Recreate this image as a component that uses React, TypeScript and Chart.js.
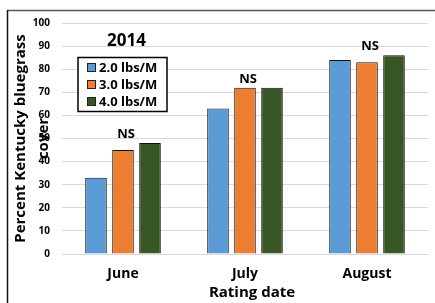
import React, { useEffect, useRef } from "react";
import { Chart, registerables } from "chart.js";

Chart.register(...registerables);

const categories = ["June", "July", "August"];
const seriesLabels = ["2.0 lbs/M", "3.0 lbs/M", "4.0 lbs/M"];
const rate20 = [33, 63, 84];
const rate30 = [45, 72, 83];
const rate40 = [48, 72, 86];
const seriesColors = ["#5b9bd5", "#ed7d31", "#375623"];
const significance = ["NS", "NS", "NS"];
const yMin = 0;
const yMax = 100;
const yStep = 10;
const chartTitle = "2014";
const yTitleLines = ["Percent Kentucky bluegrass", "cover"];
const xTitle = "Rating date";

const FONT = "'Open Sans', 'Liberation Sans', sans-serif";

const framePlugin = {
  id: "frame",
  beforeDraw(chart: any) {
    const { ctx, width, height } = chart;
    ctx.save();
    ctx.fillStyle = "#ffffff";
    ctx.fillRect(0, 0, width, height);
    ctx.strokeStyle = "#555555";
    ctx.lineWidth = 1.5;
    ctx.beginPath();
    ctx.moveTo(7, 10.5);
    ctx.lineTo(width, 10.5);
    ctx.stroke();
    ctx.strokeStyle = "#111111";
    ctx.beginPath();
    ctx.moveTo(7.5, 10);
    ctx.lineTo(7.5, height);
    ctx.stroke();
    ctx.restore();
  },
};

const textPlugin = {
  id: "texts",
  afterDatasetsDraw(chart: any) {
    const { ctx, chartArea, scales } = chart;
    const xs = scales.x;
    const ys = scales.y;
    ctx.save();
    ctx.fillStyle = "#000000";
    // NS labels
    ctx.font = `bold 13px ${FONT}`;
    ctx.textAlign = "center";
    ctx.textBaseline = "alphabetic";
    categories.forEach((_, i) => {
      let m = -Infinity;
      chart.data.datasets.forEach((ds: any) => {
        m = Math.max(m, ds.data[i]);
      });
      const x = xs.getPixelForValue(i) + 3;
      const y = ys.getPixelForValue(m) - 5;
      ctx.fillText(significance[i], x, y);
    });

    // Title
    ctx.font = `bold 17px ${FONT}`;
    ctx.textBaseline = "middle";
    ctx.fillText(chartTitle, chartArea.left + 64.5, chartArea.top + 18);

    // Legend box
    const bx = chartArea.left + 16;
    const by = chartArea.top + 34.5;
    const bw = 89;
    const bh = 54;
    ctx.fillStyle = "#ffffff";
    ctx.fillRect(bx, by, bw, bh);
    ctx.strokeStyle = "#000000";
    ctx.lineWidth = 1.5;
    ctx.strokeRect(bx, by, bw, bh);
    ctx.font = `bold 13px ${FONT}`;
    ctx.textAlign = "left";
    ctx.textBaseline = "middle";
    chart.data.datasets.forEach((ds: any, i: number) => {
      const cy = by + 10 + i * 17;
      ctx.fillStyle = ds.backgroundColor;
      ctx.fillRect(bx + 9, cy - 4.5, 9, 9);
      ctx.strokeStyle = "#222222";
      ctx.lineWidth = 1;
      ctx.strokeRect(bx + 9.5, cy - 4, 8, 8);
      ctx.fillStyle = "#000000";
      ctx.fillText(ds.label, bx + 21, cy + 0.5);
    });

    // Y title (two lines, rotated)
    const cyMid = (chartArea.top + chartArea.bottom) / 2;
    ctx.font = `bold 15px ${FONT}`;
    ctx.textAlign = "center";
    ctx.textBaseline = "middle";
    const lineX = [chartArea.left - 41, chartArea.left - 18];
    yTitleLines.forEach((t, i) => {
      ctx.save();
      ctx.translate(lineX[i], cyMid);
      ctx.rotate(-Math.PI / 2);
      ctx.fillText(t, 0, 0);
      ctx.restore();
    });

    // X title
    ctx.font = `bold 15px ${FONT}`;
    ctx.textAlign = "center";
    ctx.textBaseline = "middle";
    ctx.fillText(xTitle, (chartArea.left + chartArea.right) / 2 + 7, chartArea.bottom + 39);
    ctx.restore();
  },
};

export default function App() {
  const ref = useRef<HTMLCanvasElement | null>(null);
  useEffect(() => {
    if (!ref.current) return;
    const data = [rate20, rate30, rate40];
    const chart = new Chart(ref.current, {
      type: "bar",
      data: {
        labels: categories,
        datasets: seriesLabels.map((label, i) => ({
          label,
          data: data[i],
          backgroundColor: seriesColors[i],
          borderColor: "#111111",
          borderWidth: 1,
          barPercentage: 0.8,
          categoryPercentage: 0.664,
        })),
      },
      options: {
        responsive: false,
        animation: false,
        layout: { padding: { left: 0, top: 23, right: 7, bottom: 0 } },
        plugins: {
          legend: { display: false },
          title: { display: false },
          tooltip: { enabled: false },
        },
        scales: {
          x: {
            grid: { display: false },
            border: { display: false },
            ticks: {
              color: "#000000",
              font: { family: FONT, size: 14, weight: "bold" },
              padding: 4,
              maxRotation: 0,
            },
            afterFit(axis: any) {
              axis.height = 49;
            },
          },
          y: {
            min: yMin,
            max: yMax,
            border: { display: false },
            grid: { color: "#d9d9d9", lineWidth: 1, drawTicks: false },
            ticks: {
              stepSize: yStep,
              color: "#000000",
              font: { family: FONT, size: 10, weight: "bold" },
              padding: 12,
            },
            afterFit(axis: any) {
              axis.width = 62;
            },
          },
        },
      },
      plugins: [framePlugin, textPlugin],
    } as any);
    return () => chart.destroy();
  }, []);
  return (
    <div style={{ position: "fixed", left: 0, top: 0, width: 435, height: 303, background: "#fff" }}>
      <canvas ref={ref} width={435} height={303} style={{ width: 435, height: 303, display: "block" }} />
    </div>
  );
}
